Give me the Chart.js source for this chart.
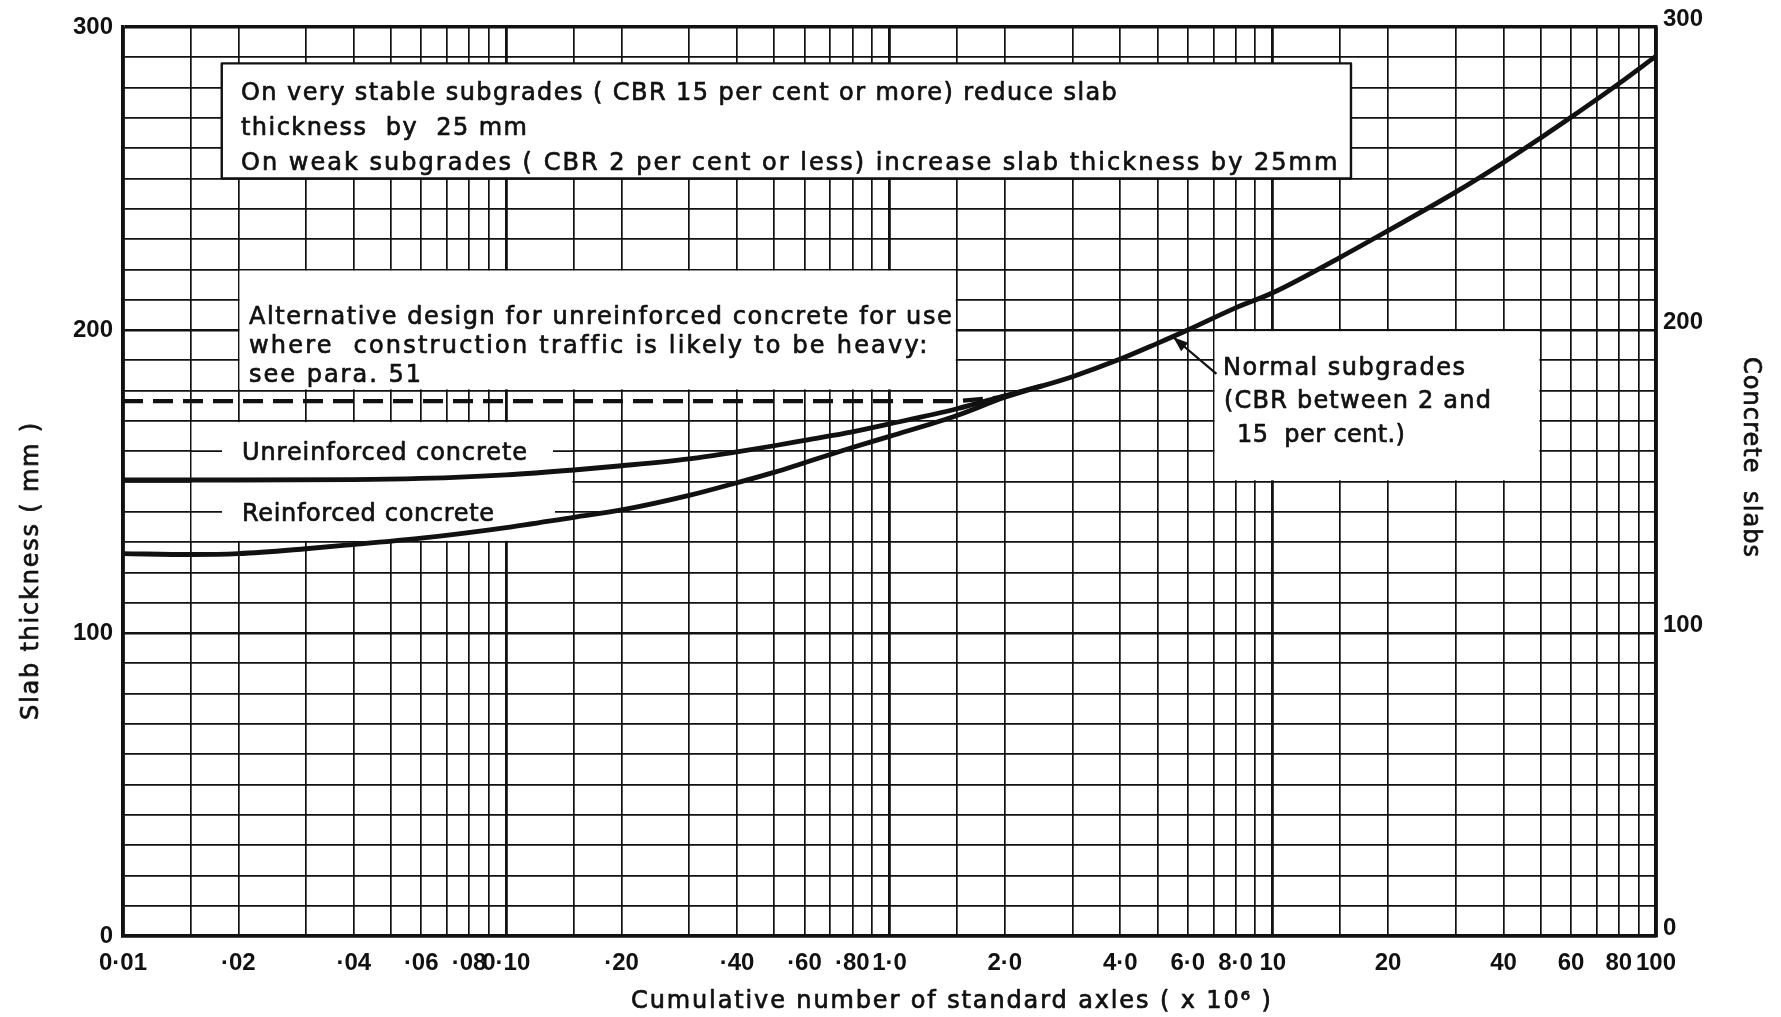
<!DOCTYPE html>
<html>
<head>
<meta charset="utf-8">
<script src="https://cdn.jsdelivr.net/npm/chart.js@4.4.1/dist/chart.umd.min.js"></script>
<style>
html, body { margin: 0; padding: 0; background: #ffffff; }
#wrap { width: 1781px; height: 1017px; }
canvas { display: block; }
</style>
</head>
<body>
<div id="wrap"><canvas id="c" width="1781" height="1017"></canvas></div>
<script>
// ---------------- data ----------------
const xLabelValues = [0.01, 0.02, 0.04, 0.06, 0.08, 0.1, 0.2, 0.4, 0.6, 0.8, 1, 2, 4, 6, 8, 10, 20, 40, 60, 80, 100];
const xLabelTexts  = ['0·01', '·02', '·04', '·06', '·08', '0·10', '·20', '·40', '·60', '·80', '1·0', '2·0', '4·0', '6·0', '8·0', '10', '20', '40', '60', '80', '100'];
const gridMantissas = [1, 1.5, 2, 3, 4, 5, 6, 7, 8, 9];
const gridDecades = [0.01, 0.1, 1, 10];
const yLabelValues = [0, 100, 200, 300];

// Reinforced concrete (continues as the common "Normal subgrades" curve)
const reinforcedX = [0.01, 0.015, 0.02, 0.03, 0.04, 0.06, 0.1, 0.15, 0.2, 0.3, 0.4, 0.5, 0.6, 0.8, 1.0, 1.5, 2.0, 3.0, 4.0, 5.0, 6.0, 8.0, 10, 15, 20, 30, 40, 50, 60, 80, 100];
const reinforcedY = [126.2, 125.9, 126.2, 127.8, 129.2, 131.3, 134.8, 138.2, 140.6, 145.4, 149.6, 153.0, 156.2, 161.2, 164.9, 171.8, 177.8, 184.6, 190.4, 195.6, 200.0, 207.3, 212.3, 224.0, 232.8, 245.5, 255.3, 263.4, 270.2, 281.3, 290.4];

// Unreinforced concrete (merges into the common curve)
const unreinforcedX = [0.01, 0.02, 0.04, 0.06, 0.1, 0.15, 0.2, 0.3, 0.4, 0.5, 0.6, 0.8, 1.0, 1.5, 2.0, 2.5];
const unreinforcedY = [150.5, 150.5, 150.6, 151.0, 152.2, 153.8, 155.2, 157.5, 159.8, 161.8, 163.6, 166.4, 169.0, 174.0, 178.3, 181.6];

// Alternative design (heavy construction traffic), dashed
const heavyX = [0.01, 1.5, 1.95];
const heavyY = [176.5, 176.5, 177.8];

// ---------------- helpers ----------------
const INK = '#111111';
const FONT = '"DejaVu Sans", "Noto Sans", sans-serif';
const TICKFONT = '"Liberation Sans", Arial, sans-serif';

const gridValues = [];
gridDecades.forEach(d => gridMantissas.forEach(m => gridValues.push(+(d * m).toPrecision(6))));
gridValues.push(100);

const near = (a, b) => Math.abs(a - b) <= Math.abs(b) * 1e-6 + 1e-12;
const xLabelFor = v => { const i = xLabelValues.findIndex(l => near(v, l)); return i >= 0 ? xLabelTexts[i] : ''; };
const isDecade = v => { const l = Math.log10(v); return Math.abs(l - Math.round(l)) < 1e-6; };
const toPts = (xs, ys) => xs.map((x, i) => ({ x: x, y: ys[i] }));
const yTicks = [];
for (let v = 0; v <= 300; v += 10) yTicks.push({ value: v });

function fitText(ctx, text, x, y, width, size) {
  ctx.font = size + 'px ' + FONT;
  ctx.letterSpacing = '0px';
  const w = ctx.measureText(text).width;
  const n = [...text].length;
  const ls = n > 1 ? (width - w) / (n - 1) : 0;
  ctx.letterSpacing = ls.toFixed(2) + 'px';
  ctx.lineWidth = 0.7;
  ctx.strokeStyle = ctx.fillStyle;
  ctx.lineJoin = 'round';
  ctx.fillText(text, x, y);
  ctx.strokeText(text, x, y);
  ctx.letterSpacing = '0px';
}

// ---------------- annotations plugin ----------------
const annot = {
  id: 'annot',
  beforeDatasetsDraw(chart) {
    const { ctx } = chart;
    const sx = chart.scales.x, sy = chart.scales.y;
    const X = v => sx.getPixelForValue(v), Y = v => sy.getPixelForValue(v);
    ctx.save();
    ctx.fillStyle = '#ffffff';
    const blank = (x0, x1, y0, y1) => {
      const a = X(x0) + 1.2, b = X(x1) - 1.2, t = Y(y1) + 1.2, u = Y(y0) - 1.2;
      ctx.fillRect(a, t, b - a, u - t);
    };
    blank(0.02, 1.5, 180, 220);    // alternative-design note
    blank(7, 50, 150, 200);        // normal subgrades note
    blank(0.015, 0.15, 130, 170);  // curve labels

    // leader lines for the curve labels
    ctx.strokeStyle = INK;
    ctx.lineWidth = 1.7;
    [160, 140].forEach(v => {
      ctx.beginPath();
      ctx.moveTo(X(0.015), Y(v));
      ctx.lineTo(X(0.15), Y(v));
      ctx.stroke();
    });
    ctx.fillStyle = '#ffffff';
    ctx.fillRect(222, Y(160) - 14, 331, 28);
    ctx.fillRect(222, Y(140) - 14, 333, 28);

    ctx.fillStyle = INK;
    ctx.textAlign = 'left';
    ctx.textBaseline = 'alphabetic';
    fitText(ctx, 'Unreinforced concrete', 242, Y(160) + 8.5, 285, 24);
    fitText(ctx, 'Reinforced concrete', 242, Y(140) + 9, 252, 24);

    // box 1 (bordered)
    const bx0 = X(0.0181), bx1 = X(16.0), by0 = Y(288), by1 = Y(250);
    ctx.fillStyle = '#ffffff';
    ctx.fillRect(bx0, by0, bx1 - bx0, by1 - by0);
    ctx.strokeStyle = INK;
    ctx.lineWidth = 2.4;
    ctx.strokeRect(bx0, by0, bx1 - bx0, by1 - by0);
    ctx.fillStyle = INK;
    fitText(ctx, 'On very stable subgrades ( CBR 15 per cent or more) reduce slab', 241, 100, 876, 24);
    fitText(ctx, 'thickness  by  25 mm', 241, 135, 286, 24);
    fitText(ctx, 'On weak subgrades ( CBR 2 per cent or less) increase slab thickness by 25mm', 241, 170, 1096, 24);

    // box 2 text
    fitText(ctx, 'Alternative design for unreinforced concrete for use', 249, 324, 703, 24);
    fitText(ctx, 'where  construction traffic is likely to be heavy:', 249, 353, 678, 24);
    fitText(ctx, 'see para. 51', 249, 382, 172, 24);

    // box 3 text
    fitText(ctx, 'Normal subgrades', 1223, 375, 242, 24);
    fitText(ctx, '(CBR between 2 and', 1224, 408, 267, 24);
    fitText(ctx, '15  per cent.)', 1237, 442, 168, 24);
    ctx.restore();
  },
  afterDatasetsDraw(chart) {
    const { ctx } = chart;
    const sx = chart.scales.x, sy = chart.scales.y;
    const X = v => sx.getPixelForValue(v), Y = v => sy.getPixelForValue(v);
    // arrow from note to curve
    const tx = X(5.5), ty = Y(197.6), fx = X(7.13), fy = Y(185.5);
    ctx.save();
    ctx.strokeStyle = INK;
    ctx.fillStyle = INK;
    ctx.lineWidth = 2.2;
    ctx.beginPath();
    ctx.moveTo(fx, fy);
    ctx.lineTo(tx, ty);
    ctx.stroke();
    const ang = Math.atan2(ty - fy, tx - fx);
    const L = 15, W = 5.5;
    ctx.beginPath();
    ctx.moveTo(tx, ty);
    ctx.lineTo(tx - L * Math.cos(ang) + W * Math.sin(ang), ty - L * Math.sin(ang) - W * Math.cos(ang));
    ctx.lineTo(tx - L * Math.cos(ang) - W * Math.sin(ang), ty - L * Math.sin(ang) + W * Math.cos(ang));
    ctx.closePath();
    ctx.fill();
    ctx.restore();
  },
  afterDraw(chart) {
    const { ctx } = chart;
    ctx.save();
    ctx.fillStyle = INK;
    ctx.textAlign = 'left';
    ctx.textBaseline = 'alphabetic';
    // bottom title
    fitText(ctx, 'Cumulative number of standard axles ( x 10⁶ )', 631, 1008, 640, 24);
    // left title
    ctx.save();
    ctx.translate(38, 572);
    ctx.rotate(-Math.PI / 2);
    fitText(ctx, 'Slab thickness ( mm )', -148, 0, 297, 24);
    ctx.restore();
    // right title
    ctx.save();
    ctx.translate(1744, 457);
    ctx.rotate(Math.PI / 2);
    fitText(ctx, 'Concrete  slabs', -100, 0, 200, 24);
    ctx.restore();
    ctx.restore();
  }
};

// ---------------- chart ----------------
const tickFont = { family: TICKFONT, size: 24, weight: 'bold' };

new Chart(document.getElementById('c'), {
  type: 'line',
  data: {
    datasets: [
      {
        label: 'Reinforced concrete',
        data: toPts(reinforcedX, reinforcedY),
        borderColor: INK, borderWidth: 4.8, pointRadius: 0,
        cubicInterpolationMode: 'monotone', fill: false
      },
      {
        label: 'Unreinforced concrete',
        data: toPts(unreinforcedX, unreinforcedY),
        borderColor: INK, borderWidth: 4.8, pointRadius: 0,
        cubicInterpolationMode: 'monotone', fill: false
      },
      {
        label: 'Alternative design (heavy construction traffic)',
        data: toPts(heavyX, heavyY),
        borderColor: INK, borderWidth: 4.2, pointRadius: 0,
        borderDash: [20, 10], tension: 0, fill: false
      }
    ]
  },
  options: {
    responsive: false,
    animation: false,
    devicePixelRatio: 1,
    layout: { padding: { top: 27, left: 0, right: 0, bottom: 0 } },
    plugins: { legend: { display: false }, tooltip: { enabled: false } },
    scales: {
      x: {
        type: 'logarithmic', position: 'bottom', min: 0.01, max: 100,
        afterBuildTicks: s => { s.ticks = gridValues.map(v => ({ value: v })); },
        afterFit: s => { s.height = 81; },
        grid: { color: INK, lineWidth: c => (c.tick && isDecade(c.tick.value)) ? 2.8 : 1.7, drawTicks: false },
        border: { display: true, color: INK, width: 3.5 },
        ticks: {
          autoSkip: false, maxRotation: 0, minRotation: 0, padding: 13,
          color: INK, font: tickFont,
          callback: v => xLabelFor(v)
        }
      },
      y: {
        type: 'linear', position: 'left', min: 0, max: 300,
        afterBuildTicks: s => { s.ticks = yTicks.map(t => ({ value: t.value })); },
        afterFit: s => { s.width = 123; },
        grid: { color: INK, lineWidth: c => (c.tick && c.tick.value % 100 === 0) ? (c.tick.value === 300 ? 3.5 : 2.4) : 1.7, drawTicks: false },
        border: { display: true, color: INK, width: 3.5 },
        ticks: {
          autoSkip: false, padding: 10, color: INK, font: tickFont,
          callback: v => yLabelValues.includes(v) ? String(v) : ''
        }
      },
      y2: {
        type: 'linear', position: 'right', min: 0, max: 300,
        afterBuildTicks: s => { s.ticks = yTicks.map(t => ({ value: t.value })); },
        afterFit: s => { s.width = 125; },
        grid: { display: false, drawTicks: false },
        border: { display: true, color: INK, width: 3.5 },
        ticks: {
          autoSkip: false, padding: 7, labelOffset: -8, color: INK, font: tickFont,
          callback: v => yLabelValues.includes(v) ? String(v) : ''
        }
      }
    }
  },
  plugins: [annot]
});
</script>
</body>
</html>
